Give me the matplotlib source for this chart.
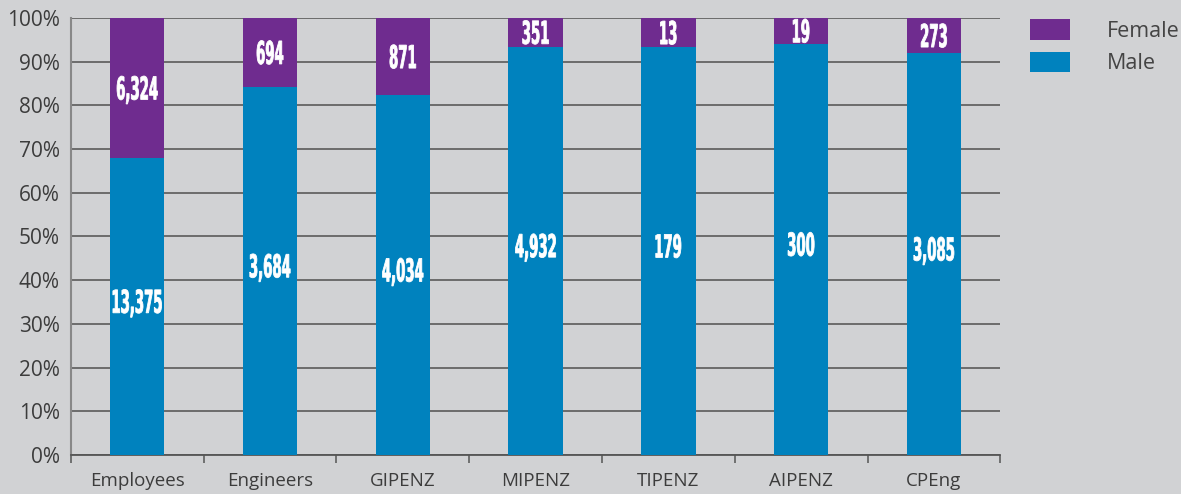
import numpy as np
import matplotlib
matplotlib.use('Agg')
import matplotlib.pyplot as plt
import matplotlib.transforms as mtransforms
from matplotlib.patches import Patch, PathPatch
from matplotlib.textpath import TextPath
from matplotlib.font_manager import FontProperties

# Daten
categories = ['Employees', 'Engineers', 'GIPENZ', 'MIPENZ', 'TIPENZ', 'AIPENZ', 'CPEng']
male = [13375, 3684, 4034, 4932, 179, 300, 3085]
female = [6324, 694, 871, 351, 13, 19, 273]

BG = '#d1d2d4'
BLUE = '#0082be'
PURPLE = '#6f2c8f'
TEXT = '#3c3c3c'
TICK_FONT = ['Open Sans', 'DejaVu Sans']

male = np.array(male, dtype=float)
female = np.array(female, dtype=float)
total = male + female
male_pct = male / total
female_pct = female / total


def schmale_zahl(ax, x, y, s, cap_px=23, sx=0.42):
    # schmale, fette Zahl als Pfad (kein Condensed-Font installiert)
    fp = FontProperties(family='DejaVu Sans', weight='bold')
    size = cap_px / 0.729
    tp = TextPath((0, 0), s, size=size, prop=fp)
    bb = tp.get_extents()
    tr = (mtransforms.Affine2D()
          .translate(-(bb.x0 + bb.x1) / 2, -cap_px / 2)
          .scale(sx, 1.0)
          + mtransforms.ScaledTranslation(x, y, ax.transData))
    ax.add_patch(PathPatch(tp, facecolor='white', edgecolor='white', linewidth=0.6,
                           transform=tr, zorder=4))


fig = plt.figure(figsize=(11.81, 4.94), dpi=100, facecolor=BG)
ax = fig.add_axes([0.060, 0.079, 0.787, 0.885], facecolor=BG)

x = np.arange(len(categories))
w = 0.41
ax.bar(x, male_pct, w, color=BLUE, zorder=3, label='Male')
ax.bar(x, female_pct, w, bottom=male_pct, color=PURPLE, zorder=3, label='Female')

for i in range(len(categories)):
    schmale_zahl(ax, x[i], male_pct[i] / 2 + 0.012, f'{int(male[i]):,}')
    schmale_zahl(ax, x[i], male_pct[i] + female_pct[i] / 2, f'{int(female[i]):,}')

ax.set_xlim(-0.5, len(categories) - 0.5)
ax.set_ylim(0, 1)
ax.set_yticks(np.arange(0, 1.01, 0.1))
ax.set_yticklabels([f'{int(round(v * 100))}%' for v in np.arange(0, 1.01, 0.1)])
ax.yaxis.grid(True, color='#505050', linewidth=1.1, zorder=0)
ax.set_axisbelow(True)

ax.set_xticks(x)
ax.set_xticklabels(categories)
ax.set_xticks(np.arange(-0.5, len(categories), 1), minor=True)
ax.tick_params(axis='x', which='major', length=0, pad=12, labelsize=13.5, labelcolor=TEXT)
ax.tick_params(axis='x', which='minor', length=6, width=1.1, color='#555555', direction='out')
ax.tick_params(axis='y', length=0, pad=8, labelsize=15, labelcolor=TEXT)
for lbl in ax.get_xticklabels() + ax.get_yticklabels():
    lbl.set_family(TICK_FONT)

for s in ['top', 'right']:
    ax.spines[s].set_visible(False)
ax.spines['left'].set_color('#888888')
ax.spines['left'].set_linewidth(1.5)
ax.spines['bottom'].set_color('#555555')
ax.spines['bottom'].set_linewidth(1.3)

handles = [Patch(facecolor=PURPLE, label='Female'), Patch(facecolor=BLUE, label='Male')]
leg = fig.legend(handles=handles, loc='upper left', bbox_to_anchor=(0.856, 1.0),
                 frameon=False, handlelength=1.85, handleheight=1.07,
                 handletextpad=1.7, labelspacing=0.45,
                 prop={'family': TICK_FONT, 'size': 15.5})
for t in leg.get_texts():
    t.set_color('#444444')

fig.savefig('out.png', dpi=100, facecolor=BG)
